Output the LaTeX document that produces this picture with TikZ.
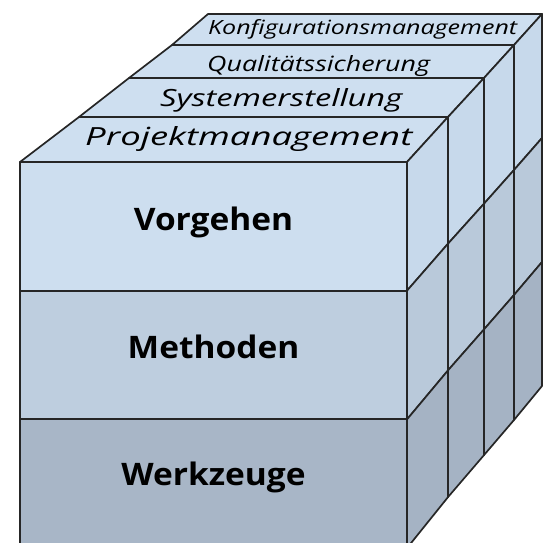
\documentclass[tikz,border=0pt]{standalone}
\usepackage{fontspec}
\usepackage{graphicx}
\setmainfont{Open Sans}[FakeStretch=1.08]
\definecolor{slabfill}{RGB}{206,223,240}
\definecolor{rowA}{RGB}{205,222,239}
\definecolor{rowB}{RGB}{190,206,223}
\definecolor{rowC}{RGB}{168,182,199}
\definecolor{sideA}{RGB}{199,217,235}
\definecolor{sideB}{RGB}{185,201,218}
\definecolor{sideC}{RGB}{165,179,196}
\tikzset{
    cell/.style={draw=black!85, line width=1.7pt, line join=round},
    layer/.style={font=\bfseries\fontsize{31}{31}\selectfont, inner sep=0pt, anchor=base},
    slabtext/.style={font=\itshape, inner sep=0pt, anchor=base west}
}
\newcommand{\slab}[3]{\resizebox{#1pt}{#2pt}{#3}}

\begin{document}
\begin{tikzpicture}[x=1pt, y=-1pt]
    \clip (0,0) rectangle (547,543);
    % right face grid: column / top / row height
    \foreach \c/\x/\t/\h in {0/407/162/128.7, 1/448/117/126.7, 2/484/78/125.7, 3/514/45/125, 4/542/14/124}
    \foreach \r in {0,...,3}
        \coordinate (s\c\r) at (\x,\t+\r*\h);
    % left edge of the top face
    \foreach \i/\x/\y in {0/20/162, 1/79/117, 2/129/78, 3/172/45, 4/208/14}
        \coordinate (l\i) at (\x,\y);
    \foreach \r/\y in {0/162, 1/290.7, 2/419.3, 3/548}
        \coordinate (f\r) at (20,\y);
    % top slabs
    \foreach \i in {0,...,3}{
    \pgfmathtruncatemacro\n{\i+1}
    \draw[cell, fill=slabfill] (l\i) -- (s\i0) -- (s\n0) -- (l\n) -- cycle;}
    % right face
    \foreach \c in {0,...,3}{
    \pgfmathtruncatemacro\n{\c+1}
    \foreach \r/\col in {0/sideA, 1/sideB, 2/sideC}{
    \pgfmathtruncatemacro\rn{\r+1}
    \draw[cell, fill=\col] (s\c\r) -- (s\n\r) -- (s\n\rn) -- (s\c\rn) -- cycle;}}
    % front face
    \draw[cell, fill=rowA] (f0) rectangle (s01);
    \draw[cell, fill=rowB] (f1) rectangle (s02);
    \draw[cell, fill=rowC] (f2) rectangle (s03);
    \node[layer] (vorgehen) at (213.5,230) {Vorgehen};
    \node[layer] (methoden) at (213.5,358) {Methoden};
    \node[layer] (werkzeuge) at (213.5,485) {Werkzeuge};
    \node[slabtext] (projekt) at (85,146) {\slab{327}{19}{\itshape Projektmanagement}};
    \node[slabtext] (system) at (160,107) {\slab{242}{18}{\itshape Systemerstellung}};
    \node[slabtext] (quali) at (207,71) {\slab{223}{16}{\itshape Qualitätssicherung}};
    \node[slabtext] (konfig) at (208,35) {\slab{309}{15}{\itshape Konfigurationsmanagement}};
\end{tikzpicture}
\end{document}
